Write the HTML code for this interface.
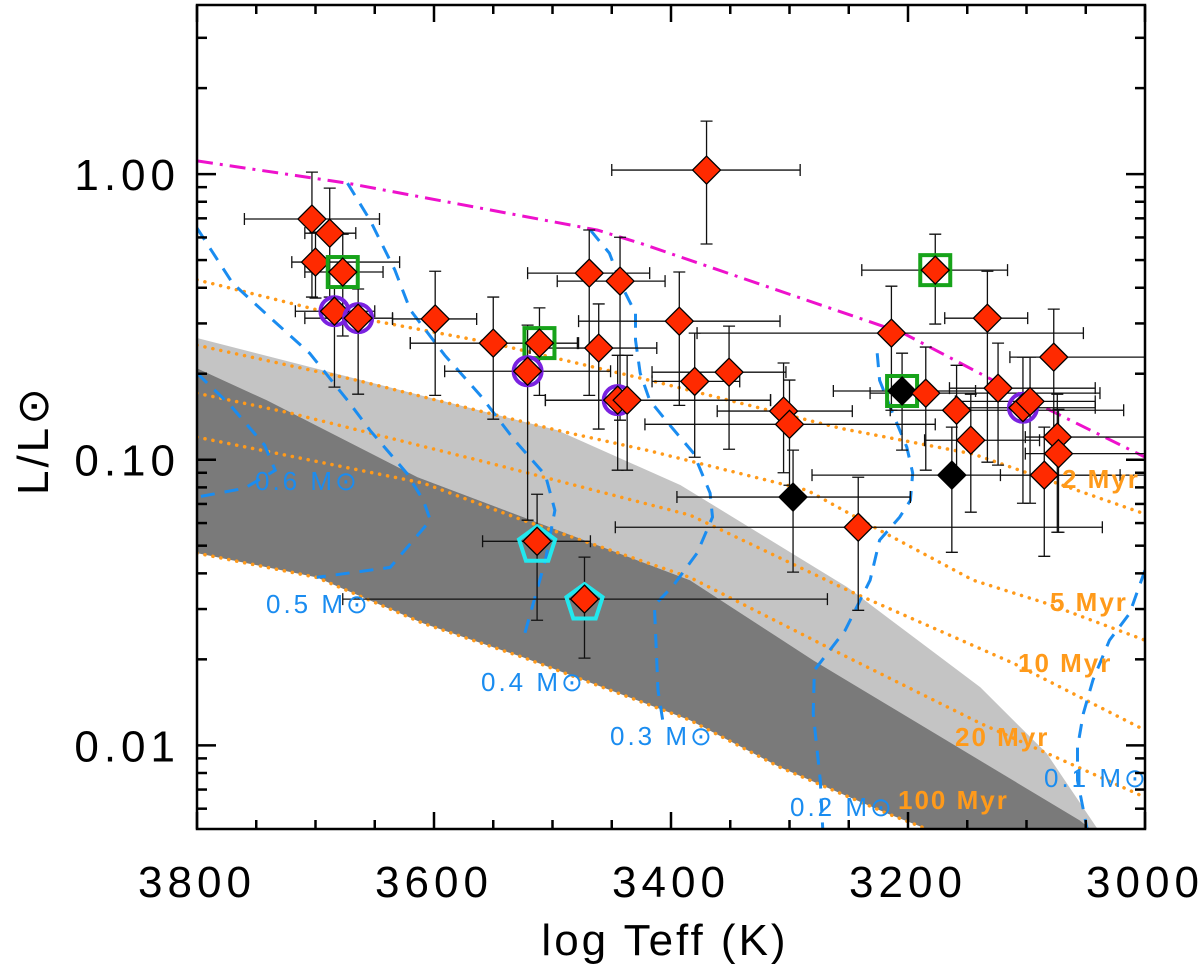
<!DOCTYPE html>
<html><head><meta charset="utf-8"><style>
html,body{margin:0;padding:0;background:#fff;}
svg{display:block;font-family:"Liberation Sans",sans-serif;}
</style></head><body>
<svg id="chart" width="1200" height="964" viewBox="0 0 1200 964" xmlns="http://www.w3.org/2000/svg"></svg>
<script>
// ---- data ----
const teff = [3370,3703,3688,3700,3677,3684,3664,3599,3550,3511,3521,3469,3443,3461,3445,3437,3393,3380,3351,3305,3300,3297,3242,3214,3177,3133,3205,3185,3159,3147,3124,3103,3097,3077,3163,3085,3074,3073,3513,3473];
const lum = [1.033,0.696,0.621,0.492,0.454,0.331,0.313,0.311,0.256,0.256,0.204,0.45,0.422,0.246,0.1616,0.1616,0.3055,0.188,0.2025,0.148,0.133,0.074,0.058,0.2774,0.461,0.313,0.174,0.171,0.149,0.117,0.178,0.152,0.16,0.2286,0.0883,0.0883,0.12,0.105,0.0518,0.0325];
const teffHot = [3450,3760,3709,3720,3709,3717,3709,3635,3620,3620,3591,3521,3496,3519,3506,3506,3478,3416,3416,3361,3422,3395,3447,3378,3239,3169,3263,3232,3215,3186,3165,3160,3160,3114,3281,3122,3101,3101,3559,3677];
const teffCool = [3291,3646,3666,3629,3643,3650,3635,3564,3479,3478,3451,3418,3405,3412,3316,3316,3308,3342,3303,3247,3177,3198,3036,3052,3116,3099,3143,3038,3018,3089,3042,3042,3042,3000,3021,3000,3000,3000,3468,3268];
const lumLo = [0.569,0.371,0.371,0.368,0.271,0.1795,0.1696,0.168,0.1386,0.168,0.0614,0.168,0.1375,0.128,0.0919,0.0919,0.155,0.102,0.1088,0.09,0.0814,0.0404,0.0297,0.149,0.2985,0.098,0.108,0.0919,0.09,0.0655,0.0957,0.0704,0.0704,0.1062,0.0474,0.0459,0.0557,0.0557,0.0274,0.0202];
const lumHi = [1.533,1.016,0.893,0.626,0.616,0.399,0.396,0.457,0.371,0.34,0.296,0.637,0.601,0.351,0.232,0.232,0.454,0.2774,0.2936,0.218,0.19,0.108,0.0868,0.405,0.616,0.457,0.236,0.248,0.214,0.1696,0.256,0.2286,0.2286,0.3366,0.13,0.13,0.1696,0.15,0.0757,0.0456];
const fill = ['r','r','r','r','r','r','r','r','r','r','r','r','r','r','r','r','r','r','r','r','r','k','r','r','r','r','k','r','r','r','r','r','r','r','k','r','r','r','r','r'];
const overlay = ['','','','','sq','ci','ci','','','sq','ci','','','','ci','','','','','','','','','','sq','','sq','','','','','ci','','','','','','','pe','pe'];

// model curves (Teff, log L)
const iso2T=[3800,3694,3553,3420,3257,3145,3000], iso2L=[-.37,-.48,-.59,-.72,-.89,-.98,-1.19];
const iso5T=[3800,3665,3496,3420,3285,3224,3145,3083,3000], iso5L=[-.599,-.722,-.897,-.967,-1.107,-1.247,-1.422,-1.503,-1.632];
const iso10T=[3800,3721,3553,3384,3251,3111,3000], iso10L=[-.767,-.837,-1.012,-1.194,-1.457,-1.713,-1.947];
const iso20T=[3800,3609,3525,3384,3251,3139,3000], iso20L=[-.921,-1.082,-1.212,-1.412,-1.692,-1.923,-2.182];
const iso100T=[3800,3699,3609,3525,3384,3308,3218,3181], iso100L=[-1.327,-1.412,-1.573,-1.692,-1.912,-2.077,-2.238,-2.298];
const lightTopT=[3800,3496,3392,3251,3139,3083,3040], lightTopL=[-.574,-.897,-1.089,-1.447,-1.797,-2.028,-2.293];
const darkTopT=[3800,3741,3614,3384,3280,3055,3046], darkTopL=[-.68,-.792,-1.061,-1.422,-1.702,-2.263,-2.293];
const magT=[3800,3673,3462,3426,3204,3080,3000], magL=[.046,-.032,-.196,-.242,-.557,-.827,-.991];
const m05T=[3800,3770,3736,3705,3673,3654,3623,3609,3603,3637,3699], m05L=[-.189,-.382,-.511,-.627,-.792,-.897,-1.047,-1.142,-1.212,-1.377,-1.412];
const m06T=[3800,3772,3743,3734,3760,3800], m06L=[-.697,-.809,-.949,-1.037,-1.1,-1.131];
const m04T=[3673,3654,3633,3620,3591,3561,3532,3506,3498,3506,3525], m04L=[-.032,-.161,-.336,-.476,-.634,-.774,-.932,-1.054,-1.177,-1.352,-1.632];
const m03T=[3468,3452,3441,3430,3430,3426,3418,3401,3381,3367,3365,3378,3398,3414,3411,3407], m03L=[-.196,-.277,-.396,-.487,-.581,-.697,-.792,-.879,-.977,-1.117,-1.201,-1.327,-1.44,-1.51,-1.807,-1.912];
const m02T=[3226,3224,3213,3201,3196,3198,3207,3224,3232,3253,3279,3280,3274,3272], m02L=[-.627,-.722,-.837,-.956,-1.047,-1.142,-1.201,-1.282,-1.422,-1.597,-1.737,-1.888,-2.123,-2.291];
const m01T=[3000,3013,3030,3044,3052,3057,3057,3049], m01L=[-1.387,-1.538,-1.632,-1.772,-1.888,-2.007,-2.123,-2.289];

const xTicks=[3800,3600,3400,3200,3000];
const xTickLabels=['3800','3600','3400','3200','3000'];
const yTicks=[0.01,0.1,1];
const yTickLabels=['0.01','0.10','1.00'];

// ---- scales ----
const PL=197,PR=1145,PT=5,PB=829;
const TMAX=3800,TMIN=3000,LGMIN=-2.293,LGMAX=0.592;
function X(t){return PL+(TMAX-t)*(PR-PL)/(TMAX-TMIN);}
function YL(lg){return PT+(LGMAX-lg)*(PB-PT)/(LGMAX-LGMIN);}
function Y(l){return YL(Math.log10(l));}

const NS='http://www.w3.org/2000/svg';
const svg=document.getElementById('chart');
function mk(tag,attrs,parent){const e=document.createElementNS(NS,tag);for(const k in attrs)e.setAttribute(k,attrs[k]);(parent||svg).appendChild(e);return e;}

const defs=mk('defs',{});
const cp=mk('clipPath',{id:'plotclip'},defs);
mk('rect',{x:PL,y:PT,width:PR-PL,height:PB-PT},cp);
const plot=mk('g',{'clip-path':'url(#plotclip)'});



function pts(T,L){return T.map((t,i)=>X(t).toFixed(1)+','+YL(L[i]).toFixed(1));}

let lp=mk('polygon',{points:pts(lightTopT,lightTopL).concat(pts(darkTopT.slice().reverse(),darkTopL.slice().reverse())).join(' '),fill:'#c4c4c4'},plot);


let dp=mk('polygon',{points:pts(darkTopT,darkTopL).concat([X(3181).toFixed(1)+','+PB]).concat(pts(iso100T.slice().reverse(),iso100L.slice().reverse())).join(' '),fill:'#7a7a7a'},plot);



function line(T,L,style,name){
  const e=mk('polyline',Object.assign({points:pts(T,L).join(' '),fill:'none'},style),plot);
  
  
}
const orange={stroke:'#ff9a1a','stroke-width':3.5,'stroke-dasharray':'0.1 8','stroke-linecap':'round'};
line(iso2T,iso2L,orange,'isochrone-2myr');
line(iso5T,iso5L,orange,'isochrone-5myr');
line(iso10T,iso10L,orange,'isochrone-10myr');
line(iso20T,iso20L,orange,'isochrone-20myr');
line(iso100T,iso100L,orange,'isochrone-100myr');
const blue={stroke:'#1a8cf0','stroke-width':3,'stroke-dasharray':'14 10'};
line(m06T,m06L,blue,'track-0.6msun');
line(m05T,m05L,blue,'track-0.5msun');
line(m04T,m04L,blue,'track-0.4msun');
line(m03T,m03L,blue,'track-0.3msun');
line(m02T,m02L,blue,'track-0.2msun');
line(m01T,m01L,blue,'track-0.1msun');
line(magT,magL,{stroke:'#ee11cc','stroke-width':3,'stroke-dasharray':'16 7 3 7'},'magenta-limit-line');

const eg=mk('g',{stroke:'#111','stroke-width':1.3,fill:'none'},plot);


for(let i=0;i<teff.length;i++){
  const x=X(teff[i]),y=Y(lum[i]),x1=X(teffHot[i]),x2=X(teffCool[i]),y1=Y(lumHi[i]),y2=Y(lumLo[i]);
  const p=mk('path',{d:`M${x1},${y}H${x2}M${x1},${y-6}V${y+6}M${x2},${y-6}V${y+6}M${x},${y1}V${y2}M${x-6},${y1}H${x+6}M${x-6},${y2}H${x+6}`},eg);
  
  
}
for(let i=0;i<teff.length;i++){
  const x=X(teff[i]),y=Y(lum[i]);
  const o=overlay[i];
  if(o==='ci'){const c=mk('circle',{cx:x,cy:y,r:14,fill:'none',stroke:'#7a22e0','stroke-width':4},plot);
    }
  if(o==='sq'){const s=mk('rect',{x:x-15,y:y-15,width:30,height:30,fill:'none',stroke:'#17a31a','stroke-width':4},plot);
    }
  if(o==='pe'){let a=[];for(let k=0;k<5;k++){const ang=-Math.PI/2+k*2*Math.PI/5;a.push((x+19*Math.cos(ang)).toFixed(1)+','+(y+4+19*Math.sin(ang)).toFixed(1));}
    const pg=mk('polygon',{points:a.join(' '),fill:'none',stroke:'#22e8ee','stroke-width':4},plot);
    }
  const d=mk('polygon',{points:`${x},${y-14} ${x+14},${y} ${x},${y+14} ${x-14},${y}`,fill:fill[i]==='k'?'#000':'#ff2a00',stroke:'#000','stroke-width':1.3},plot);
  
  
}

function txt(s,x,y,attrs,name){const t=mk('text',Object.assign({x:x,y:y},attrs));t.textContent=s;return t;}
const bl={fill:'#1a8cf0','font-size':26,'letter-spacing':3};
txt('0.6 M⊙',255,490,bl,'label-0.6msun');
txt('0.5 M⊙',266,613,bl,'label-0.5msun');
txt('0.4 M⊙',481,691,bl,'label-0.4msun');
txt('0.3 M⊙',610,745,bl,'label-0.3msun');
txt('0.2 M⊙',790,816,bl,'label-0.2msun');
txt('0.1 M⊙',1044,787,bl,'label-0.1msun');
const ol={fill:'#ff9a1a','font-size':26,'font-weight':'bold','letter-spacing':2};
txt('2 Myr',1062,488,ol,'label-2myr');
txt('5 Myr',1050,611,ol,'label-5myr');
txt('10 Myr',1018,672,ol,'label-10myr');
txt('20 Myr',955,746,ol,'label-20myr');
txt('100 Myr',898,809,ol,'label-100myr');

const fr=mk('rect',{x:PL,y:PT,width:PR-PL,height:PB-PT,fill:'none',stroke:'#000','stroke-width':2.5});

const tg=mk('g',{stroke:'#000','stroke-width':2.5});

for(let t=3000;t<=3800;t+=50){
  const x=X(t),major=(t%200===0),len=major?17:9;
  mk('line',{x1:x,y1:PB,x2:x,y2:PB-len},tg);
  mk('line',{x1:x,y1:PT,x2:x,y2:PT+len},tg);
}
for(let dec=-3;dec<=0;dec++){
  for(let m=1;m<=9;m++){
    const lg=dec+Math.log10(m);
    if(lg<LGMIN||lg>LGMAX)continue;
    const y=YL(lg),len=m===1?19:10;
    mk('line',{x1:PL,y1:y,x2:PL+len,y2:y},tg);
    mk('line',{x1:PR,y1:y,x2:PR-len,y2:y},tg);
  }
}
const tk={fill:'#000','font-size':44,'letter-spacing':5};
xTicks.forEach((t,i)=>{txt(xTickLabels[i],X(t),897,Object.assign({'text-anchor':'middle'},tk),'x-tick-label');});
yTicks.forEach((l,i)=>{txt(yTickLabels[i],180,Y(l)+16,Object.assign({'text-anchor':'end'},tk),'y-tick-label');});
txt('log Teff (K)',665,955,{fill:'#000','font-size':44,'letter-spacing':3,'text-anchor':'middle'},'x-axis-title');
txt('L/L⊙',48,440,{fill:'#000','font-size':44,'letter-spacing':3,'text-anchor':'middle',transform:'rotate(-90 48 440)'},'y-axis-title');
</script>
</body></html>
